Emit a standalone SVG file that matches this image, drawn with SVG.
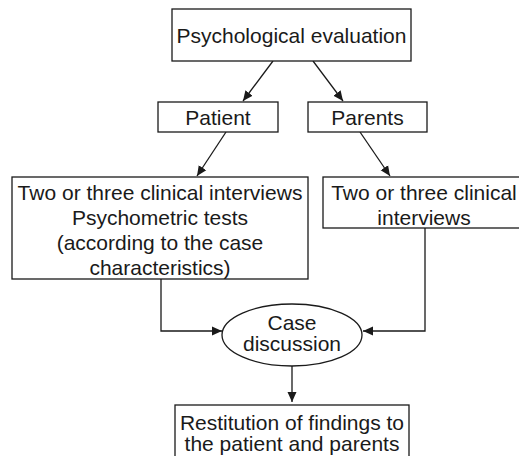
<svg xmlns="http://www.w3.org/2000/svg" width="519" height="456" viewBox="0 0 519 456">
<defs>
<marker id="ah" viewBox="0 0 10 10" refX="10" refY="5" markerWidth="10" markerHeight="10" markerUnits="userSpaceOnUse" orient="auto">
<path d="M0,0.5 L10,5 L0,9.5 z" fill="#1a1a1a"/>
</marker>
<style>
.b{fill:#fff;stroke:#1a1a1a;stroke-width:1.3}
.t{font-family:"Liberation Sans",Arial,sans-serif;font-size:21px;fill:#1a1a1a;text-anchor:middle}
.c{fill:none;stroke:#1a1a1a;stroke-width:1.3;marker-end:url(#ah)}
</style>
</defs>
<rect width="519" height="456" fill="#fff"/>
<g id="connectors">
<path class="c" d="M273,61 L243,101"/>
<path class="c" d="M313,61 L343,101"/>
<path class="c" d="M226,132 L197,176"/>
<path class="c" d="M360,132 L390,176"/>
<path class="c" d="M161,279 L161,331 L222,331"/>
<path class="c" d="M425,228 L425,331 L363,331"/>
<path class="c" d="M292,366 L292,402"/>
</g>
<g id="n1">
<rect class="b" x="172" y="9" width="239" height="52"/>
<text class="t" x="291.5" y="42.5">Psychological evaluation</text>
</g>
<g id="n2">
<rect class="b" x="158" y="102" width="120" height="30"/>
<text class="t" x="218" y="124.5">Patient</text>
</g>
<g id="n3">
<rect class="b" x="308" y="102" width="119" height="30"/>
<text class="t" x="367.5" y="124.5">Parents</text>
</g>
<g id="n4">
<rect class="b" x="12" y="177" width="296" height="102"/>
<text class="t" x="160" y="199.5">Two or three clinical interviews</text>
<text class="t" x="160" y="224.5">Psychometric tests</text>
<text class="t" x="160" y="249.5">(according to the case</text>
<text class="t" x="160" y="274.5">characteristics)</text>
</g>
<g id="n5">
<rect class="b" x="323" y="177" width="205" height="51"/>
<text class="t" x="424" y="199.5">Two or three clinical</text>
<text class="t" x="424" y="224.5">interviews</text>
</g>
<g id="n6">
<ellipse class="b" cx="292" cy="335" rx="70" ry="31"/>
<text class="t" x="292" y="329.5">Case</text>
<text class="t" x="292" y="350.5">discussion</text>
</g>
<g id="n7">
<rect class="b" x="175" y="405" width="234" height="60"/>
<text class="t" x="292" y="429.5">Restitution of findings to</text>
<text class="t" x="292" y="450.5">the patient and parents</text>
</g>
</svg>
